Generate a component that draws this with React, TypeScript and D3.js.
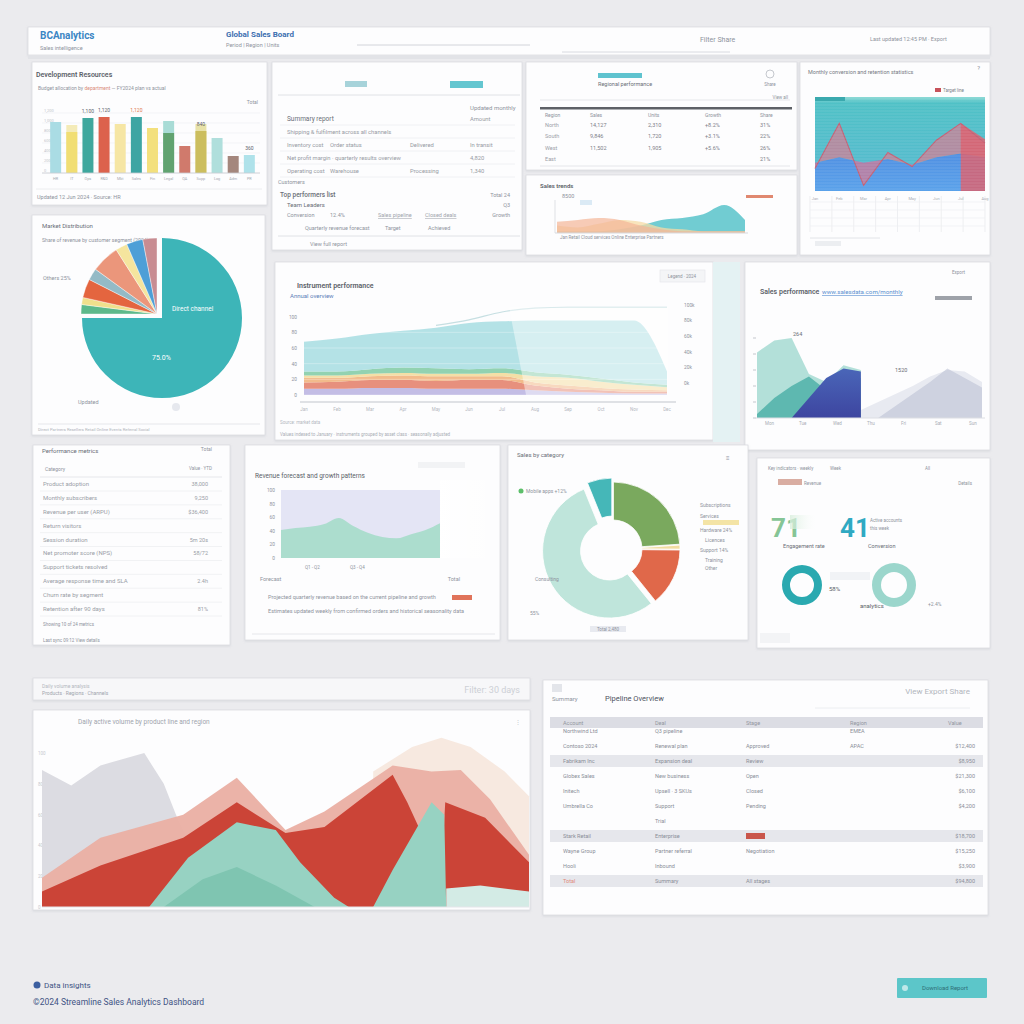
import React from 'react';
import * as d3 from 'd3';

const FONT = 'Roboto, "Open Sans", Arial, sans-serif';

// ---------- bar panel (top left)
const barDepts = ['HR', 'IT', 'Ops', 'R&D', 'Mkt', 'Sales', 'Fin', 'Legal', 'QA', 'Supp', 'Log', 'Adm', 'PR'];
const barValues = [1020, 820, 1100, 1120, 980, 1120, 900, 800, 540, 840, 700, 340, 360];
const barTargets = [0, 960, 0, 0, 0, 0, 0, 1040, 0, 980, 0, 0, 0];
const barLabelled = ['Ops', 'R&D', 'Sales', 'Supp', 'PR'];
const barColors = ['#a3d9e2', '#f0dc6c', '#2f9f95', '#d9553e', '#f5e49c', '#2c9d9b', '#f2dd72', '#5b9d67', '#cc6f5f', '#c9bb58', '#a9dcd9', '#9c7d72', '#a8dfe8'];
const barTargetColors = ['', '#f4ebb8', '', '', '', '', '', '#a9dcd6', '', '#e8e2a8', '', '', ''];

// ---------- pie panel
const pieNames = ['Direct', 'Partners', 'Resellers', 'Retail', 'Online', 'Events', 'Referral', 'Social', 'Other'];
const pieShares = [75, 2, 1.5, 4, 2.5, 6, 2.5, 3.5, 3];
const pieColors = ['#3db5b8', '#5db98b', '#f0e08c', '#e4653f', '#94bac6', '#eb967b', '#f5e59e', '#4e9fd7', '#c88c92'];

// ---------- middle stacked chart
const midMonths = ['Jan', 'Feb', 'Mar', 'Apr', 'May', 'Jun', 'Jul', 'Aug', 'Sep', 'Oct', 'Nov', 'Dec'];
const midPurple = [8, 8, 9, 9, 8, 8, 8, 6, 4, 3, 2, 2];
const midRed = [8, 9, 10, 10, 10, 11, 11, 6, 4, 3, 2, 2];
const midOrange = [6, 5, 5, 6, 6, 5, 5, 4, 4, 3, 3, 2];
const midYellow = [3, 3, 3, 3, 3, 3, 4, 8, 10, 8, 6, 4];
const midGreen = [5, 5, 6, 7, 7, 6, 6, 5, 4, 4, 3, 3];
const midTeal = [38, 42, 45, 47, 52, 59, 60, 66, 69, 74, 79, 17];
const midTrend = [null, null, null, null, 89, 96, 106, 111, 112, 112, 112, 112];
const midKeys = ['purple', 'red', 'orange', 'yellow', 'green', 'teal'];
const midColors: Record<string, string> = { purple: '#bdb6e2', red: '#e4846f', orange: '#f1b47e', yellow: '#f3dc9c', green: '#86cda9', teal: '#acdfe3' };

// ---------- right mountain chart
const eWeeks = ['W1', 'W2', 'W3', 'W4', 'W5', 'W6', 'W7', 'W8', 'W9', 'W10', 'W11', 'W12', 'W13', 'W14'];
const eHaze = [null, null, null, null, null, null, 10, 20, 30, 40, 52, 60, 58, 45];
const eMint = [82, 97, 100, 55, 45, 66, 60, null, null, null, null, null, null, null];
const eTeal = [5, 25, 40, 52, 35, 45, 50, null, null, null, null, null, null, null];
const eBlue = [null, null, 0, 25, 50, 62, 58, null, null, null, null, null, null, null];
const eGray = [null, null, null, null, null, null, null, 0, 15, 30, 45, 62, 50, 38];

// ---------- top right chart
const dMonths = ['Jan', 'Feb', 'Mar', 'Apr', 'May', 'Jun', 'Jul', 'Aug'];
const dLine = [24, 72, 6, 41, 26, 54, 72, 51];
const dBase = [30, 36, 30, 34, 28, 36, 40, 36];
const dPeak = [null, null, null, null, null, null, 72, 55];

// ---------- small trend chart (panel C)
const cWeeks = ['1', '2', '3', '4', '5', '6', '7', '8', '9', '10'];
const cOrange = [12, 14, 16, 14, 8, 4, 2, 2, 2, 2];
const cYellow = [8, 6, 10, 14, 12, 6, 4, 2, 2, 2];
const cTeal = [2, 2, 2, 4, 8, 14, 16, 20, 30, 14];

// ---------- forecast area
const fMonths = ['J', 'F', 'M', 'A', 'M2', 'J2', 'J3', 'A2', 'S', 'O', 'N', 'D'];
const fValues = [41, 44, 46, 50, 59, 47, 37, 31, 29, 35, 41, 51];

// ---------- donut
const donutNames = ['Hardware', 'Licences', 'Support', 'Consulting', 'Mobile apps'];
const donutShares = [24, 1, 14, 55, 6];
const donutColors = ['#7aa95e', '#f0dca0', '#e0684a', '#bfe5db', '#45b7b8'];
const donutExplode = [0, 0, 0, 4, 4];

// ---------- KPI rings
const kpiRings = [58, 100];

// ---------- bottom volume chart
const volGrayDays = [0, 6, 12, 21, 25, 28, 32, 39];
const volGray = [89, 79, 92, 100, 80, 56, 30, 0];
const volPeachDays = [68, 76, 82, 88, 95, 100];
const volPeach = [88, 104, 110, 104, 88, 72];
const volSalmonDays = [0, 12, 29, 40, 50, 58, 72, 80, 86, 92, 100];
const volSalmon = [19, 45, 60, 84, 50, 62, 92, 88, 89, 70, 34];
const volRedDays = [0, 12, 29, 40, 50, 58, 72, 75, 82, 82.8, 91, 100];
const volRed = [10, 27, 45, 68, 48, 52, 86, 68, 20, 68, 58, 29];
const volPaleDays = [83, 90, 100];
const volPale = [12, 14, 10];
const volMintDays = [22, 30, 40, 48, 53, 60, 63, 68, 72, 80, 82.6, 83];
const volMint = [0, 32, 55, 50, 29, 6, 0, 0, 24, 68, 60, 0];
const volMintDeepDays = [25, 33, 40, 48, 56];
const volMintDeep = [0, 18, 26, 14, 0];

// ---------- lists and tables
const channelRows = [
  ['Summary report', '', '', 'Amount'],
  ['Shipping & fulfilment across all channels', '', '', ''],
  ['Inventory cost', 'Order status', 'Delivered', 'In transit'],
  ['Net profit margin · quarterly results overview', '', '', '4,820'],
  ['Operating cost', 'Warehouse', 'Processing', '1,340'],
];
const regionHeader = ['Region', 'Sales', 'Units', 'Growth', 'Share'];
const regionRows = [
  ['North', '14,127', '2,310', '+8.2%', '31%'],
  ['South', '9,846', '1,720', '+3.1%', '22%'],
  ['West', '11,502', '1,905', '+5.6%', '26%'],
  ['East', '', '', '', '21%'],
];
const metricNames = ['Product adoption', 'Monthly subscribers', 'Revenue per user (ARPU)', 'Return visitors', 'Session duration', 'Net promoter score (NPS)', 'Support tickets resolved', 'Average response time and SLA', 'Churn rate by segment', 'Retention after 90 days'];
const metricValues = ['38,000', '9,250', '$36,400', '', '5m 20s', '58/72', '', '2.4h', '', '81%'];
const tableHeader = ['Account', 'Deal', 'Stage', 'Region', 'Value'];
const tableRows = [
  ['Northwind Ltd', 'Q3 pipeline', '', 'EMEA', ''],
  ['Contoso 2024', 'Renewal plan', 'Approved', 'APAC', '$12,400'],
  ['Fabrikam Inc', 'Expansion deal', 'Review', '', '$8,950'],
  ['Globex Sales', 'New business', 'Open', '', '$21,300'],
  ['Initech', 'Upsell · 3 SKUs', 'Closed', '', '$6,100'],
  ['Umbrella Co', 'Support', 'Pending', '', '$4,200'],
  ['', 'Trial', '', '', ''],
  ['Stark Retail', 'Enterprise', '', '', '$18,700'],
  ['Wayne Group', 'Partner referral', 'Negotiation', '', '$15,250'],
  ['Hooli', 'Inbound', '', '', '$3,900'],
  ['Total', 'Summary', 'All stages', '', '$94,800'],
];
const tableBands = [2, 7, 10];

type TP = { x: number; y: number; s?: number; c?: string; w?: number; a?: 'start' | 'middle' | 'end'; children?: React.ReactNode; deco?: string };
const T = ({ x, y, s = 6, c = '#8e939d', w = 400, a = 'start', children, deco }: TP) => (
  <text x={x} y={y} fontSize={s} fill={c} fontWeight={w} textAnchor={a} fontFamily={FONT} textDecoration={deco}>
    {children}
  </text>
);

const Panel = ({ x, y, w, h, fill = '#fdfdfe' }: { x: number; y: number; w: number; h: number; fill?: string }) => (
  <rect x={x} y={y} width={w} height={h} fill={fill} stroke="#dcdde2" strokeWidth={0.8} filter="url(#sh)" />
);

const Header = () => (
  <g>
    <Panel x={28} y={27} w={962} h={28} />
    <T x={40} y={39} s={10} c="#3b86c4" w={700}>BCAnalytics</T>
    <T x={40} y={50} s={5.5}>Sales intelligence</T>
    <T x={226} y={37} s={8} c="#3c6fb0" w={700}>Global Sales Board</T>
    <T x={226} y={47} s={5.5}>Period  |  Region  |  Units</T>
    <line x1={357} x2={530} y1={45} y2={45} stroke="#d2d4da" strokeWidth={1} />
    <line x1={562} x2={730} y1={52} y2={52} stroke="#d8dae0" strokeWidth={1} />
    <T x={700} y={42} s={7}>Filter    Share</T>
    <T x={870} y={41} s={5.5}>Last updated 12:45 PM · Export</T>
    <rect x={28} y={55} width={962} height={4} fill="#e2e3e7" />
  </g>
);

const BarPanel = () => {
  const x = d3.scaleBand<string>().domain(barDepts).range([45, 260]).padding(0.32);
  const y = d3.scaleLinear().domain([0, 1200]).range([173, 113]);
  const fmt = d3.format(',');
  return (
    <g>
      <Panel x={32} y={62} w={235} h={143} />
      <T x={36} y={77} s={7} c="#5b5f68" w={600}>Development Resources</T>
      <T x={38} y={90} s={5}>
        Budget allocation by <tspan fill="#d98a7a">department</tspan> — FY2024 plan vs actual
      </T>
      <T x={258} y={104} s={5} a="end">Total</T>
      {y.ticks(4).map((t) => (
        <g key={t}>
          <line x1={42} x2={260} y1={y(t)} y2={y(t)} stroke="#eef0f3" strokeWidth={0.6} />
          <T x={44} y={y(t) - 1} s={4} c="#c2c5cc">{fmt(t)}</T>
        </g>
      ))}
      {barDepts.map((d, i) => (
        <g key={d}>
          {barTargets[i] > 0 && (
            <rect x={x(d)} y={y(barTargets[i])} width={x.bandwidth()} height={y(0) - y(barTargets[i])} fill={barTargetColors[i]} />
          )}
          <rect x={x(d)} y={y(barValues[i])} width={x.bandwidth()} height={y(0) - y(barValues[i])} fill={barColors[i]} opacity={0.92} />
          <T x={x(d)! + x.bandwidth() / 2} y={180} s={3.8} a="middle" c="#a4a8b0">{d}</T>
          {barLabelled.includes(d) && (
            <T x={x(d)! + x.bandwidth() / 2} y={y(barValues[i]) - 5} s={5} a="middle" c={d === 'Sales' ? '#e07b4f' : '#60646c'}>
              {fmt(barValues[i])}
            </T>
          )}
        </g>
      ))}
      <line x1={42} x2={260} y1={y(0)} y2={y(0)} stroke="#c9ccd2" strokeWidth={0.8} />
      <line x1={36} x2={262} y1={189} y2={189} stroke="#e7e8ec" strokeWidth={0.8} />
      <T x={37} y={199} s={5.5}>Updated 12 Jun 2024 · Source: HR</T>
    </g>
  );
};

const ChannelPanel = () => {
  const rowY = d3.scalePoint<number>().domain(channelRows.map((_, i) => i)).range([121, 173]);
  const cols = [287, 330, 410, 470];
  return (
    <g>
      <Panel x={272} y={62} w={250} h={188} />
      <rect x={345} y={81} width={22} height={6} fill="#a7d3da" />
      <rect x={450} y={81} width={33} height={7} fill="#64c6d0" />
      <line x1={278} x2={520} y1={95} y2={95} stroke="#e0e2e6" />
      <T x={470} y={110} s={6}>Updated monthly</T>
      {channelRows.map((r, i) =>
        r.map((c, j) => (
          <T key={`${i}-${j}`} x={cols[j]} y={rowY(i)!} s={i === 0 && j === 0 ? 6.5 : 5.8} c={i === 0 && j === 0 ? '#6a6e77' : '#979ba4'}>
            {c}
          </T>
        )),
      )}
      {channelRows.map((_, i) => (
        <line key={i} x1={280} x2={515} y1={rowY(i)! + 4} y2={rowY(i)! + 4} stroke="#f0f1f4" />
      ))}
      <T x={278} y={184} s={5.5}>Customers</T>
      <T x={280} y={197} s={6.5} c="#6a6e77" w={500}>Top performers list</T>
      <T x={510} y={197} s={5.5} a="end">Total 24</T>
      <T x={287} y={207} s={6} c="#6a6e77">Team Leaders</T>
      <T x={510} y={207} s={5.5} a="end">Q3</T>
      <T x={287} y={217} s={5.5}>Conversion</T>
      <T x={330} y={217} s={5.5}>12.4%</T>
      <T x={378} y={217} s={5.5} c="#a0a4ac" deco="underline">Sales pipeline</T>
      <T x={425} y={217} s={5.5} c="#a0a4ac" deco="underline">Closed deals</T>
      <T x={510} y={217} s={5.5} a="end">Growth</T>
      <T x={305} y={230} s={5.5}>Quarterly revenue forecast</T>
      <T x={385} y={230} s={5.5}>Target</T>
      <T x={428} y={230} s={5.5}>Achieved</T>
      <line x1={278} x2={520} y1={236} y2={236} stroke="#e0e2e6" />
      <T x={310} y={246} s={5.5}>View full report</T>
    </g>
  );
};

const RegionPanel = () => {
  const cols = [545, 590, 648, 705, 760];
  const rowY = d3.scalePoint<number>().domain(regionRows.map((_, i) => i)).range([127, 161]);
  return (
    <g>
      <Panel x={526} y={62} w={271} h={108} />
      <rect x={598} y={73} width={44} height={5} fill="#5fc3cf" />
      <T x={598} y={86} s={5.5} c="#6a6e77">Regional performance</T>
      <circle cx={770} cy={74} r={4} fill="none" stroke="#b6bac2" strokeWidth={0.8} />
      <T x={770} y={86} s={4.5} a="middle">Share</T>
      <line x1={540} x2={790} y1={100} y2={100} stroke="#e5e6ea" />
      <T x={788} y={99} s={4.5} a="end">View all</T>
      <rect x={540} y={107} width={252} height={2.5} fill="#5d6066" />
      {regionHeader.map((h, j) => (
        <T key={h} x={cols[j]} y={117} s={5}>{h}</T>
      ))}
      {regionRows.map((r, i) =>
        r.map((c, j) => (
          <T key={`${i}-${j}`} x={cols[j]} y={rowY(i)!} s={5.5} c={j === 0 ? '#9ca0a8' : '#7d818a'}>{c}</T>
        )),
      )}
      <line x1={540} x2={790} y1={166} y2={166} stroke="#e5e6ea" />
    </g>
  );
};

const TrendPanel = () => {
  const x = d3.scalePoint<string>().domain(cWeeks).range([557, 745]);
  const y = d3.scaleLinear().domain([0, 30]).range([233, 205]);
  const area = d3.area<number>().x((_, i) => x(cWeeks[i])!).y0(y(0)).y1((d) => y(d)).curve(d3.curveMonotoneX);
  return (
    <g>
      <Panel x={526} y={175} w={271} h={80} />
      <T x={540} y={188} s={6} c="#5b5f68" w={600}>Sales trends</T>
      <T x={562} y={198} s={5.5}>8500</T>
      <rect x={580} y={200} width={12} height={5} fill="#dbeaf5" />
      <rect x={746} y={195} width={27} height={3} fill="#e08870" />
      <line x1={555} x2={555} y1={200} y2={233} stroke="#dfe1e5" />
      <path d={area(cTeal)!} fill="#58c3ca" opacity={0.85} />
      <path d={area(cYellow)!} fill="#f6dba6" opacity={0.75} />
      <path d={area(cOrange)!} fill="#f4b597" opacity={0.7} />
      <line x1={555} x2={748} y1={233} y2={233} stroke="#d7d9de" />
      <T x={560} y={239} s={4.5}>Jan   Retail    Cloud services   Online   Enterprise   Partners</T>
    </g>
  );
};

const ConversionPanel = () => {
  const x = d3.scalePoint<string>().domain(dMonths).range([815, 985]);
  const y = d3.scaleLinear().domain([0, 100]).range([191, 97]);
  const band = d3.area<number>().x((_, i) => x(dMonths[i])!).y0((_, i) => y(dBase[i])).y1((d) => y(d));
  const base = d3.area<number>().x((_, i) => x(dMonths[i])!).y0(y(0)).y1((d) => y(d));
  const peak = d3.area<number | null>().defined((d) => d != null).x((_, i) => x(dMonths[i])!).y0(y(0)).y1((d) => y(d as number));
  const line = d3.line<number>().x((_, i) => x(dMonths[i])!).y((d) => y(d));
  const gridX = d3.scalePoint<number>().domain(d3.range(9)).range([810, 985]);
  return (
    <g>
      <Panel x={800} y={62} w={190} h={193} />
      <T x={808} y={74} s={5.5} c="#777b84">Monthly conversion and retention statistics</T>
      <T x={980} y={70} s={6} a="end">?</T>
      <rect x={935} y={88} width={6} height={4} fill="#c7525a" />
      <T x={943} y={92} s={4.5} c="#7a7e86">Target line</T>
      <rect x={815} y={97} width={170} height={94} fill="url(#dTeal)" />
      <path d={base(dBase)!} fill="url(#dBlue)" />
      <path d={band(dLine)!} fill="#d9788e" opacity={0.7} />
      <path d={peak(dPeak)!} fill="#d9606f" opacity={0.85} />
      <path d={line(dLine)!} fill="none" stroke="#c45f74" strokeWidth={1.1} />
      {d3.range(99, 191, 3).map((v) => (
        <line key={v} x1={815} x2={985} y1={v} y2={v} stroke="#ffffff" strokeOpacity={0.2} strokeWidth={0.6} />
      ))}
      <rect x={815} y={97} width={30} height={4} fill="#3aa9ae" />
      {gridX.domain().map((i) => (
        <line key={i} x1={gridX(i)} x2={gridX(i)} y1={196} y2={232} stroke="#e4e6ea" strokeWidth={0.6} />
      ))}
      {[202, 210, 218, 226].map((v) => (
        <line key={v} x1={810} x2={985} y1={v} y2={v} stroke="#eceef1" strokeWidth={0.6} />
      ))}
      {dMonths.map((m) => (
        <T key={m} x={x(m)!} y={200} s={4} a="middle" c="#a9adb5">{m}</T>
      ))}
      <line x1={810} x2={880} y1={238} y2={238} stroke="#e2e4e8" />
      <rect x={815} y={241} width={26} height={5} fill="#eceef1" />
    </g>
  );
};

const PiePanel = () => {
  const pie = d3.pie<number>().sort(null).value((d) => d);
  const arcs = pie(pieShares);
  const arcBig = d3.arc<d3.PieArcDatum<number>>().innerRadius(0).outerRadius(80);
  const arcSmall = d3.arc<d3.PieArcDatum<number>>().innerRadius(0).outerRadius(76);
  const cx = 162;
  const cy = 318;
  return (
    <g>
      <Panel x={32} y={215} w={233} h={220} />
      <T x={42} y={228} s={6} c="#6a6e77">Market Distribution</T>
      <T x={42} y={242} s={5.2}>Share of revenue by customer segment (2024)</T>
      {arcs.map((a, i) => (
        <path
          key={pieNames[i]}
          d={(i === 0 ? arcBig(a) : arcSmall(a))!}
          fill={pieColors[i]}
          stroke="#ffffff"
          strokeWidth={i === 0 ? 0 : 0.4}
          transform={i === 0 ? `translate(${cx},${cy})` : `translate(${cx - 5},${cy - 4})`}
        />
      ))}
      <T x={43} y={280} s={5.5}>Others 25%</T>
      <T x={172} y={311} s={6.5} c="#ffffff">Direct channel</T>
      <T x={152} y={360} s={7} c="#ffffff">75.0%</T>
      <T x={78} y={404} s={5.5}>Updated</T>
      <circle cx={176} cy={407} r={4} fill="#e6e8ee" />
      <line x1={38} x2={260} y1={424} y2={424} stroke="#e6e7eb" />
      <T x={38} y={431} s={4.2} c="#b0b4bb">Direct   Partners   Resellers   Retail   Online   Events   Referral   Social</T>
    </g>
  );
};

const MidPanel = () => {
  const rows = midMonths.map((m, i) => ({ month: m, purple: midPurple[i], red: midRed[i], orange: midOrange[i], yellow: midYellow[i], green: midGreen[i], teal: midTeal[i] }));
  const series = d3.stack<any>().keys(midKeys)(rows);
  const x = d3.scalePoint<string>().domain(midMonths).range([304, 667]);
  const y = d3.scaleLinear().domain([0, 120]).range([395, 301]);
  const area = d3.area<any>().x((d) => x(d.data.month)!).y0((d) => y(d[0])).y1((d) => y(d[1])).curve(d3.curveMonotoneX);
  const trend = d3.line<number | null>().defined((d) => d != null).x((_, i) => x(midMonths[i])!).y((d) => y(d as number)).curve(d3.curveMonotoneX);
  const split = x('Jul')!;
  return (
    <g>
      <Panel x={275} y={262} w={438} h={178} />
      <rect x={713} y={262} width={27} height={180} fill="#e4f2f3" />
      <T x={297} y={288} s={7} c="#5b5f68" w={600}>Instrument performance</T>
      <T x={290} y={298} s={6} c="#5b80b8">Annual overview</T>
      <rect x={660} y={270} width={45} height={12} fill="#f4f5f7" stroke="#e3e5e9" strokeWidth={0.6} />
      <T x={682} y={278} s={4.5} a="middle">Legend · 2024</T>
      {series.map((s) => (
        <path key={s.key} d={area(s)!} fill={midColors[s.key]} opacity={0.9} />
      ))}
      {y.ticks(6).filter((t) => t <= 100).map((t) => (
        <g key={t}>
          <line x1={304} x2={667} y1={y(t)} y2={y(t)} stroke="#ffffff" strokeOpacity={0.45} strokeWidth={0.7} />
          <T x={297} y={y(t) + 2} s={4.8} a="end">{t}</T>
          <T x={684} y={y(t) - 10} s={4.8}>{`${t}k`}</T>
        </g>
      ))}
      <path d={trend(midTrend)!} fill="none" stroke="#c6dfe2" strokeWidth={1.2} />
      <polygon points={`${split + 7},${y(112)} ${x('Dec')! + 1},${y(112)} ${x('Dec')! + 1},${y(0)} ${split + 24},${y(0)}`} fill="#ffffff" opacity={0.45} />
      <line x1={300} x2={676} y1={402} y2={402} stroke="#d5d7dc" strokeWidth={1.4} />
      {midMonths.map((m) => (
        <T key={m} x={x(m)!} y={411} s={4.5} a="middle" c="#b4b8bf">{m}</T>
      ))}
      <T x={280} y={424} s={4.5} c="#b4b8bf">Source: market data</T>
      <T x={280} y={436} s={4.5} c="#a9adb5">Values indexed to January · instruments grouped by asset class · seasonally adjusted</T>
    </g>
  );
};

const ChannelMountains = () => {
  const x = d3.scalePoint<string>().domain(eWeeks).range([757, 982]);
  const y = d3.scaleLinear().domain([0, 100]).range([418, 338]);
  const area = d3.area<number | null>().defined((d) => d != null).x((_, i) => x(eWeeks[i])!).y0(y(0)).y1((d) => y(d as number));
  return (
    <g>
      <Panel x={745} y={262} w={245} h={188} />
      <T x={760} y={294} s={7} c="#5b5f68" w={600}>Sales performance</T>
      <T x={822} y={294} s={6.2} c="#5a8fd0" deco="underline">www.salesdata.com/monthly</T>
      <rect x={935} y={296} width={37} height={4} fill="#9ea2a9" />
      <T x={965} y={274} s={4.5} a="end">Export</T>
      {y.ticks(4).map((t) => (
        <line key={t} x1={753} x2={756} y1={y(t)} y2={y(t)} stroke="#c4c7cd" />
      ))}
      <path d={area(eHaze)!} fill="#e8eaf1" />
      <path d={area(eGray)!} fill="#b8bed2" opacity={0.55} />
      <path d={area(eMint)!} fill="#abddd5" opacity={0.9} />
      <path d={area(eTeal)!} fill="#4fb0a8" opacity={0.85} />
      <path d={area(eBlue)!} fill="url(#eBlue)" />
      <T x={793} y={336} s={5.5} c="#6a6e77">264</T>
      <T x={895} y={372} s={5.5} c="#6a6e77">1520</T>
      <line x1={755} x2={985} y1={418} y2={418} stroke="#dcdee3" />
      {['Mon', 'Tue', 'Wed', 'Thu', 'Fri', 'Sat', 'Sun'].map((d, i) => (
        <T key={d} x={765 + i * 34} y={425} s={4.5} c="#a9adb5">{d}</T>
      ))}
    </g>
  );
};

const MetricsPanel = () => {
  const rowY = d3.scalePoint<number>().domain(metricNames.map((_, i) => i)).range([486, 611]);
  return (
    <g>
      <Panel x={33} y={445} w={197} h={200} />
      <T x={42} y={453} s={6} c="#6a6e77">Performance metrics</T>
      <T x={212} y={451} s={5} a="end">Total</T>
      <T x={45} y={471} s={5}>Category</T>
      <T x={212} y={470} s={4.5} a="end">Value · YTD</T>
      <line x1={40} x2={222} y1={477} y2={477} stroke="#e6e7eb" />
      {metricNames.map((n, i) => (
        <g key={n}>
          <T x={43} y={rowY(i)!} s={6} c="#9a9ea7">{n}</T>
          <T x={208} y={rowY(i)!} s={5.5} a="end" c="#9a9ea7">{metricValues[i]}</T>
          <line x1={40} x2={222} y1={rowY(i)! + 5} y2={rowY(i)! + 5} stroke="#f1f2f4" />
        </g>
      ))}
      <T x={43} y={626} s={4.5}>Showing 10 of 24 metrics</T>
      <T x={43} y={642} s={4.5}>Last sync 09:12      View details</T>
    </g>
  );
};

const ForecastPanel = () => {
  const x = d3.scalePoint<string>().domain(fMonths).range([281, 440]);
  const y = d3.scaleLinear().domain([0, 100]).range([558, 490]);
  const area = d3.area<number>().x((_, i) => x(fMonths[i])!).y0(y(0)).y1((d) => y(d)).curve(d3.curveMonotoneX);
  return (
    <g>
      <Panel x={245} y={445} w={255} h={195} />
      <T x={255} y={478} s={6.5} c="#5b5f68">Revenue forecast and growth patterns</T>
      <rect x={418} y={462} width={47} height={6} fill="#f2f3f5" />
      <rect x={281} y={490} width={159} height={68} fill="#e4e5f5" />
      <path d={area(fValues)!} fill="#a9dccb" opacity={0.95} />
      <rect x={440} y={480} width={48} height={78} fill="url(#fade)" />
      {y.ticks(5).map((t) => (
        <T key={t} x={275} y={y(t) + 2} s={4.8} a="end">{t}</T>
      ))}
      <T x={305} y={569} s={4.5}>Q1 - Q2</T>
      <T x={350} y={569} s={4.5}>Q3 - Q4</T>
      <T x={260} y={581} s={5.5}>Forecast</T>
      <T x={460} y={581} s={5.5} a="end">Total</T>
      <T x={268} y={599} s={5.5}>Projected quarterly revenue based on the current pipeline and growth</T>
      <rect x={452} y={595} width={20} height={5} fill="#e0735a" />
      <T x={268} y={613} s={5.5}>Estimates updated weekly from confirmed orders and historical seasonality data</T>
      <line x1={252} x2={495} y1={634} y2={634} stroke="#e6e7eb" />
    </g>
  );
};

const DonutPanel = () => {
  const pie = d3.pie<number>().sort(null).value((d) => d).padAngle(0.012);
  const arcs = pie(donutShares);
  const arc = d3.arc<d3.PieArcDatum<number>>().innerRadius(29).outerRadius(67);
  const cx = 613;
  const cy = 549;
  return (
    <g>
      <Panel x={508} y={445} w={240} h={195} />
      <T x={517} y={457} s={6} c="#6a6e77">Sales by category</T>
      <T x={726} y={460} s={6}>≡</T>
      {arcs.map((a, i) => {
        const m = (a.startAngle + a.endAngle) / 2;
        const dx = Math.sin(m) * donutExplode[i];
        const dy = -Math.cos(m) * donutExplode[i];
        return <path key={donutNames[i]} d={arc(a)!} fill={donutColors[i]} stroke="#ffffff" strokeWidth={0.8} transform={`translate(${cx + dx},${cy + dy})`} />;
      })}
      <circle cx={521} cy={491} r={2.5} fill="#5cbf6a" />
      <T x={526} y={493} s={5}>Mobile apps  +12%</T>
      <T x={700} y={507} s={5}>Subscriptions</T>
      <T x={700} y={518} s={5}>Services</T>
      <rect x={703} y={520} width={36} height={5} fill="#f4e4a6" />
      <T x={700} y={532} s={5}>Hardware 24%</T>
      <T x={705} y={542} s={5}>Licences</T>
      <T x={700} y={552} s={5}>Support 14%</T>
      <T x={705} y={562} s={5}>Training</T>
      <T x={705} y={570} s={5}>Other</T>
      <T x={535} y={581} s={5}>Consulting</T>
      <T x={530} y={615} s={5}>55%</T>
      <rect x={590} y={626} width={36} height={6} fill="#e8eaf0" />
      <T x={608} y={631} s={4.5} a="middle">Total 2,480</T>
    </g>
  );
};

const KpiPanel = () => {
  const ring = d3.arc().innerRadius(12).outerRadius(20).startAngle(0);
  const ring2 = d3.arc().innerRadius(13).outerRadius(22).startAngle(0);
  const sweep = d3.scaleLinear().domain([0, 100]).range([0, 2 * Math.PI]);
  return (
    <g>
      <Panel x={757} y={458} w={233} h={190} />
      <T x={768} y={470} s={4.5}>Key indicators · weekly</T>
      <T x={830} y={470} s={4.5}>Week</T>
      <T x={925} y={470} s={4.5}>All</T>
      <rect x={778} y={479} width={24} height={6} fill="#c98a7a" opacity={0.7} />
      <T x={804} y={485} s={4.5}>Revenue</T>
      <T x={972} y={485} s={4.5} a="end">Details</T>
      <T x={771} y={537} s={26} c="#86c596" w={700}>71</T>
      <rect x={790} y={515} width={28} height={14} fill="url(#kpiFade)" />
      <T x={840} y={537} s={26} c="#2fa9c2" w={700}>41</T>
      <T x={870} y={522} s={4.5}>Active accounts</T>
      <T x={870} y={530} s={4.5}>this week</T>
      <T x={783} y={548} s={5.5} c="#6a6e77">Engagement rate</T>
      <T x={868} y={548} s={5.5} c="#6a6e77">Conversion</T>
      <path d={ring.endAngle(sweep(kpiRings[1]))(null as any)!} transform="translate(802,585)" fill="#2aa9b0" />
      <path d={ring2.endAngle(sweep(kpiRings[1]))(null as any)!} transform="translate(894,585)" fill="#9bd6cc" />
      <rect x={830} y={572} width={40} height={8} fill="#f1f3f6" />
      <T x={829} y={591} s={6} c="#5b5f68">{`${kpiRings[0]}%`}</T>
      <T x={860} y={608} s={6} c="#5b5f68">analytics</T>
      <T x={928} y={606} s={5}>+2.4%</T>
      <rect x={760} y={633} width={30} height={10} fill="#f3f4f6" />
    </g>
  );
};

const VolumePanel = () => {
  const vx = d3.scaleLinear().domain([0, 100]).range([42, 529]);
  const vy = d3.scaleLinear().domain([0, 115]).range([907, 730]);
  const zip = (days: number[], vals: number[]) => days.map((d, i) => [d, vals[i]] as [number, number]);
  const area = d3.area<[number, number]>().x((d) => vx(d[0])).y0(vy(0)).y1((d) => vy(d[1]));
  const layers: [number[], number[], string, number][] = [
    [volGrayDays, volGray, '#dcdce2', 1],
    [volPeachDays, volPeach, '#f7e9e0', 1],
    [volSalmonDays, volSalmon, '#eaafa3', 0.95],
    [volRedDays, volRed, '#cb4437', 1],
    [volPaleDays, volPale, '#d3ebe5', 1],
    [volMintDays, volMint, '#97d2c2', 1],
    [volMintDeepDays, volMintDeep, '#7fc5b1', 1],
  ];
  return (
    <g>
      <Panel x={33} y={678} w={497} h={22} fill="#f7f7f9" />
      <T x={42} y={688} s={5} c="#b4b8c0">Daily volume analysis</T>
      <T x={42} y={695} s={5} c="#a0a4ad">Products · Regions · Channels</T>
      <T x={520} y={693} s={9} c="#cdd0d6" a="end">Filter: 30 days</T>
      <Panel x={33} y={710} w={497} h={200} />
      <T x={78} y={724} s={6.5} c="#a0a4ad">Daily active volume by product line and region</T>
      <T x={515} y={724} s={6} c="#c3c6cc">⋮</T>
      {vy.ticks(6).map((t) => (
        <T key={t} x={38} y={vy(t) + 2} s={4.5} c="#c6c9cf">{t}</T>
      ))}
      {layers.map(([days, vals, color, op], i) => (
        <path key={i} d={area(zip(days, vals))!} fill={color} opacity={op} />
      ))}
      <line x1={42} x2={529} y1={907} y2={907} stroke="#e4e5e9" />
    </g>
  );
};

const TablePanel = () => {
  const cols = [563, 655, 746, 850, 948];
  const rowY = d3.scalePoint<number>().domain(tableRows.map((_, i) => i)).range([733, 883]);
  return (
    <g>
      <Panel x={543} y={680} w={445} h={235} />
      <rect x={552} y={684} width={10} height={8} fill="#e3e5ea" />
      <T x={552} y={701} s={6}>Summary</T>
      <T x={605} y={701} s={7.5} c="#4d5260">Pipeline Overview</T>
      <T x={970} y={694} s={8} a="end" c="#b2b6bd">View   Export   Share</T>
      <line x1={815} x2={970} y1={708} y2={708} stroke="#eceef1" />
      <rect x={550} y={717} width={433} height={11} fill="#dcdde4" />
      {tableHeader.map((h, j) => (
        <T key={h} x={cols[j]} y={725} s={5.5} c="#9296a0">{h}</T>
      ))}
      {tableRows.map((r, i) => (
        <g key={i}>
          {tableBands.includes(i) && <rect x={550} y={rowY(i)! - 8} width={433} height={12} fill="#e6e7ec" />}
          {r.map((c, j) => (
            <T key={j} x={j === 4 ? 975 : cols[j]} y={rowY(i)!} s={5.5} a={j === 4 ? 'end' : 'start'} c={i === 10 && j === 0 ? '#e08a7a' : '#8a8e98'}>
              {c}
            </T>
          ))}
        </g>
      ))}
      <rect x={746} y={rowY(7)! - 5} width={19} height={6} fill="#c9564b" />
    </g>
  );
};

const Footer = () => (
  <g>
    <circle cx={37} cy={985} r={3.5} fill="#3c5fa0" />
    <T x={44} y={988} s={8} c="#3f5384">Data insights</T>
    <T x={33} y={1005} s={8.5} c="#3f5384">©2024 Streamline Sales Analytics Dashboard</T>
    <rect x={897} y={978} width={90} height={20} fill="#5cc6c9" rx={1} />
    <circle cx={905} cy={988} r={3} fill="#ffffff" opacity={0.6} />
    <T x={945} y={990} s={6} c="#2f6f78" a="middle">Download Report</T>
  </g>
);

export default function App() {
  return (
    <svg width={1024} height={1024} style={{ position: 'absolute', left: 0, top: 0 }} fontFamily={FONT}>
      <defs>
        <filter id="sh" x="-5%" y="-5%" width="110%" height="115%">
          <feDropShadow dx="0" dy="1" stdDeviation="1.2" floodColor="#9aa0ac" floodOpacity="0.25" />
        </filter>
        <linearGradient id="dTeal" x1="0" y1="0" x2="0" y2="1">
          <stop offset="0" stopColor="#8fdad6" />
          <stop offset="0.06" stopColor="#4fc1c6" />
          <stop offset="1" stopColor="#57b9d0" />
        </linearGradient>
        <linearGradient id="dBlue" x1="0" y1="0" x2="0" y2="1">
          <stop offset="0" stopColor="#4f8fe2" />
          <stop offset="1" stopColor="#5aa2ea" />
        </linearGradient>
        <linearGradient id="eBlue" x1="0" y1="0" x2="0" y2="1">
          <stop offset="0" stopColor="#4a66b8" />
          <stop offset="1" stopColor="#3d45a0" />
        </linearGradient>
        <linearGradient id="fade" x1="0" y1="0" x2="1" y2="0">
          <stop offset="0" stopColor="#ffffff" stopOpacity="0.9" />
          <stop offset="1" stopColor="#ffffff" stopOpacity="0.2" />
        </linearGradient>
        <linearGradient id="kpiFade" x1="0" y1="0" x2="1" y2="0">
          <stop offset="0" stopColor="#d8eedc" stopOpacity="0.8" />
          <stop offset="1" stopColor="#ffffff" stopOpacity="0" />
        </linearGradient>
      </defs>
      <rect width={1024} height={1024} fill="#ebebee" />
      <Header />
      <BarPanel />
      <ChannelPanel />
      <RegionPanel />
      <TrendPanel />
      <ConversionPanel />
      <PiePanel />
      <MidPanel />
      <ChannelMountains />
      <MetricsPanel />
      <ForecastPanel />
      <DonutPanel />
      <KpiPanel />
      <VolumePanel />
      <TablePanel />
      <Footer />
    </svg>
  );
}
